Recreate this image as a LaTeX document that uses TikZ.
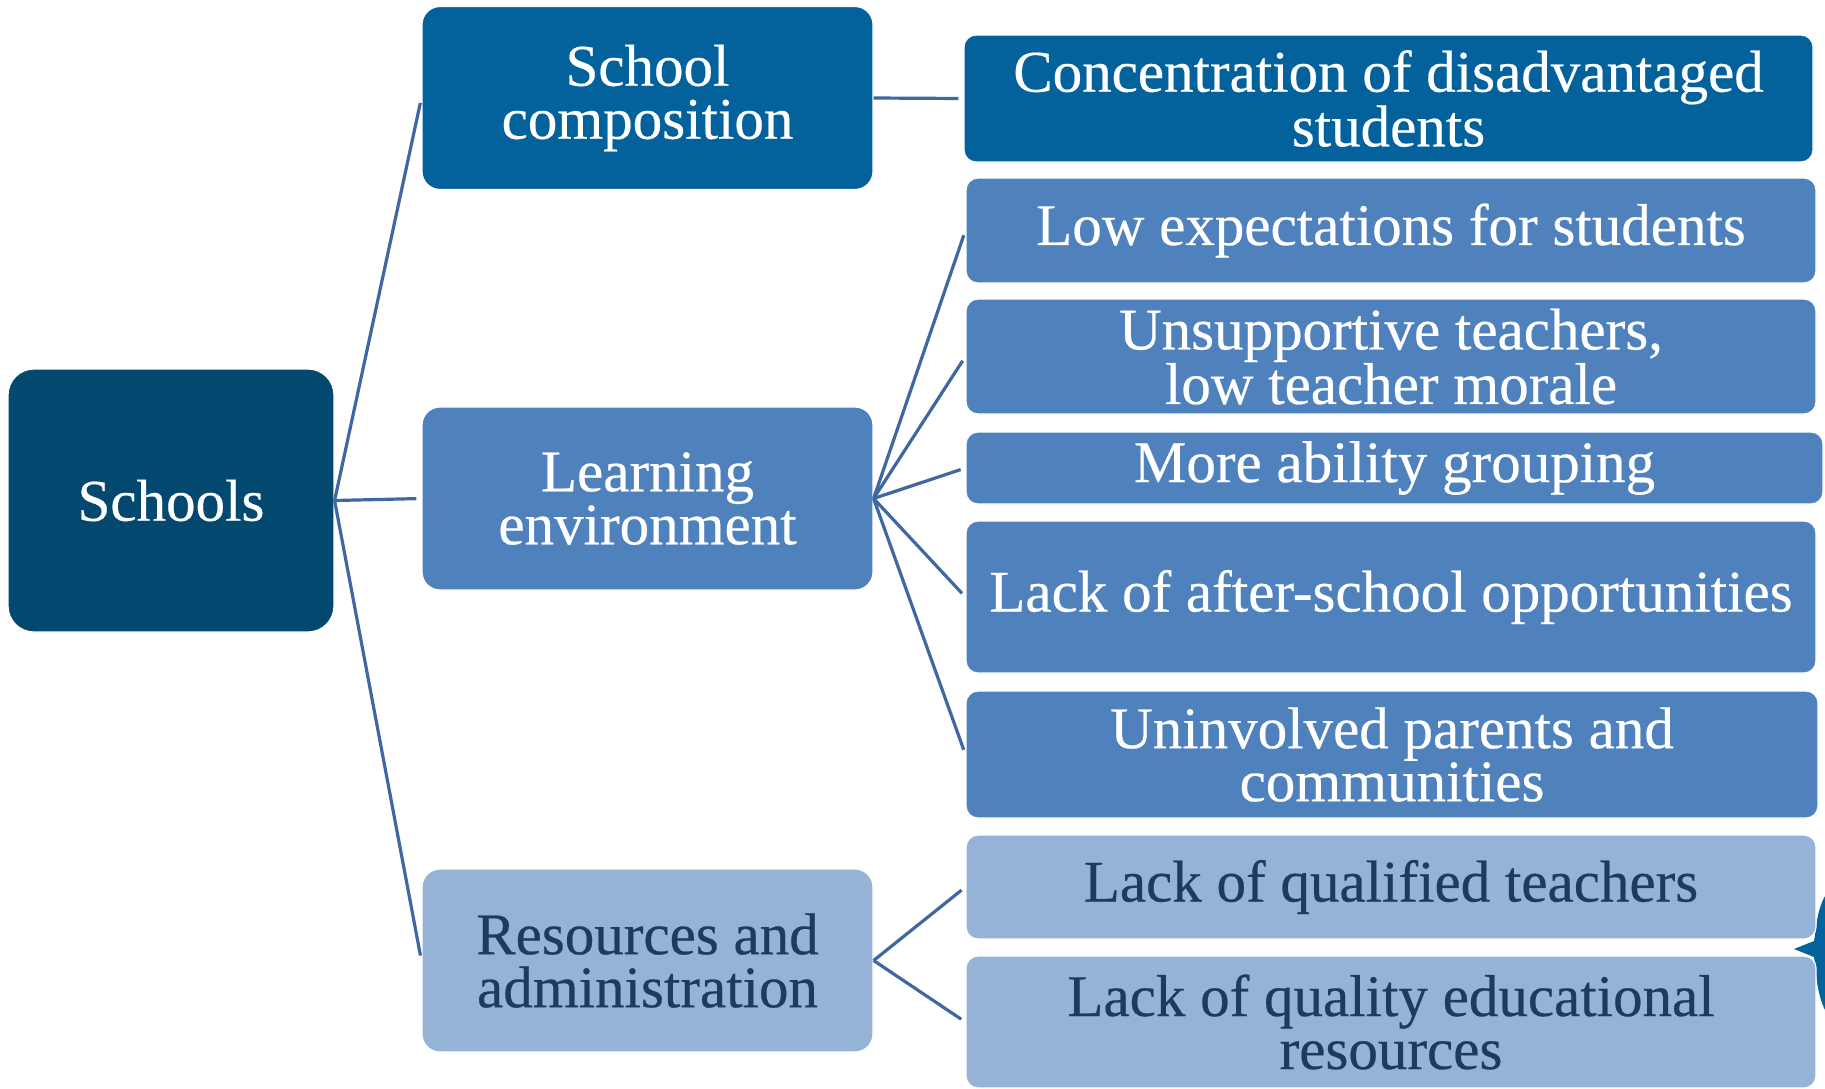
\documentclass[tikz,border=0pt]{standalone}
\usepackage{fontspec}
\setmainfont{Liberation Serif}[FakeBold=0.4]
\definecolor{rootblue}{HTML}{03496F}
\definecolor{deepblue}{HTML}{03629B}
\definecolor{midblue}{HTML}{4F81BD}
\definecolor{paleblue}{HTML}{95B3D7}
\definecolor{inkblue}{HTML}{1F3A60}
\definecolor{linkblue}{HTML}{3F67A2}
\begin{document}
\begin{tikzpicture}[x=1pt,y=-1pt,
  box/.style={rectangle, draw=white, line width=1.2pt, align=center, inner sep=0pt,
    font=\fontsize{59}{53}\selectfont},
  rootbox/.style={box, fill=rootblue, text=white, rounded corners=26pt},
  groupbox/.style={box, rounded corners=18pt, minimum width=451pt, minimum height=183pt},
  leafbox/.style={box, rounded corners=12pt},
  conn/.style={draw=linkblue, line width=3.2pt, shorten >=5pt}
]
\useasboundingbox (0,0) rectangle (1825,1088);

% brace fragment at the right edge, behind the boxes
\fill[deepblue] (1825,896) .. controls (1816,912) and (1816,932) .. (1814,941)
  -- (1794,949) -- (1814,957) .. controls (1816,968) and (1816,992) .. (1825,1010) -- cycle;

% root
\node[rootbox, minimum width=326pt, minimum height=263pt] (schools) at (171,500.5) {Schools};

% second level
\node[groupbox, fill=deepblue, text=white] (comp) at (647.5,98) {School\\composition};
\node[groupbox, fill=midblue, text=white] (learn) at (647.5,498.5) {Learning\\environment};
\node[groupbox, fill=paleblue, text=inkblue] (res) at (647.5,960.5) {Resources and\\administration};

% third level
\node[leafbox, fill=deepblue, text=white, minimum width=849pt, minimum height=127pt] (conc) at (1388.5,98.5)
  {Concentration of disadvantaged\\students};
\node[leafbox, fill=midblue, text=white, minimum width=850pt, minimum height=105pt] (lowexp) at (1391,230.5)
  {Low expectations for students};
\node[leafbox, fill=midblue, text=white, minimum width=850pt, minimum height=115pt] (unsup) at (1391,356.5)
  {Unsupportive teachers,\\low teacher morale};
\node[leafbox, fill=midblue, text=white, minimum width=857pt, minimum height=72pt] (ability) at (1394.5,468)
  {More ability grouping};
\node[leafbox, fill=midblue, text=white, minimum width=850pt, minimum height=152pt] (after) at (1391,597)
  {Lack of after-school opportunities};
\node[leafbox, fill=midblue, text=white, minimum width=852pt, minimum height=127pt] (uninv) at (1392,754.5)
  {Uninvolved parents and\\communities};
\node[leafbox, fill=paleblue, text=inkblue, minimum width=850pt, minimum height=104pt] (qualif) at (1391,887)
  {Lack of qualified teachers};
\node[leafbox, fill=paleblue, text=inkblue, minimum width=850pt, minimum height=132pt] (quality) at (1391,1022)
  {Lack of quality educational\\resources};

% connectors
\draw[conn] (schools.east) -- (comp.west);
\draw[conn] (schools.east) -- (learn.west);
\draw[conn] (schools.east) -- (res.west);
\draw[conn] (comp.east) -- (conc.west);
\foreach \leaf in {lowexp,unsup,ability,after,uninv}
  \draw[conn] (learn.east) -- (\leaf.west);
\draw[conn] (res.east) -- (qualif.west);
\draw[conn] (res.east) -- (quality.west);
\end{tikzpicture}
\end{document}
